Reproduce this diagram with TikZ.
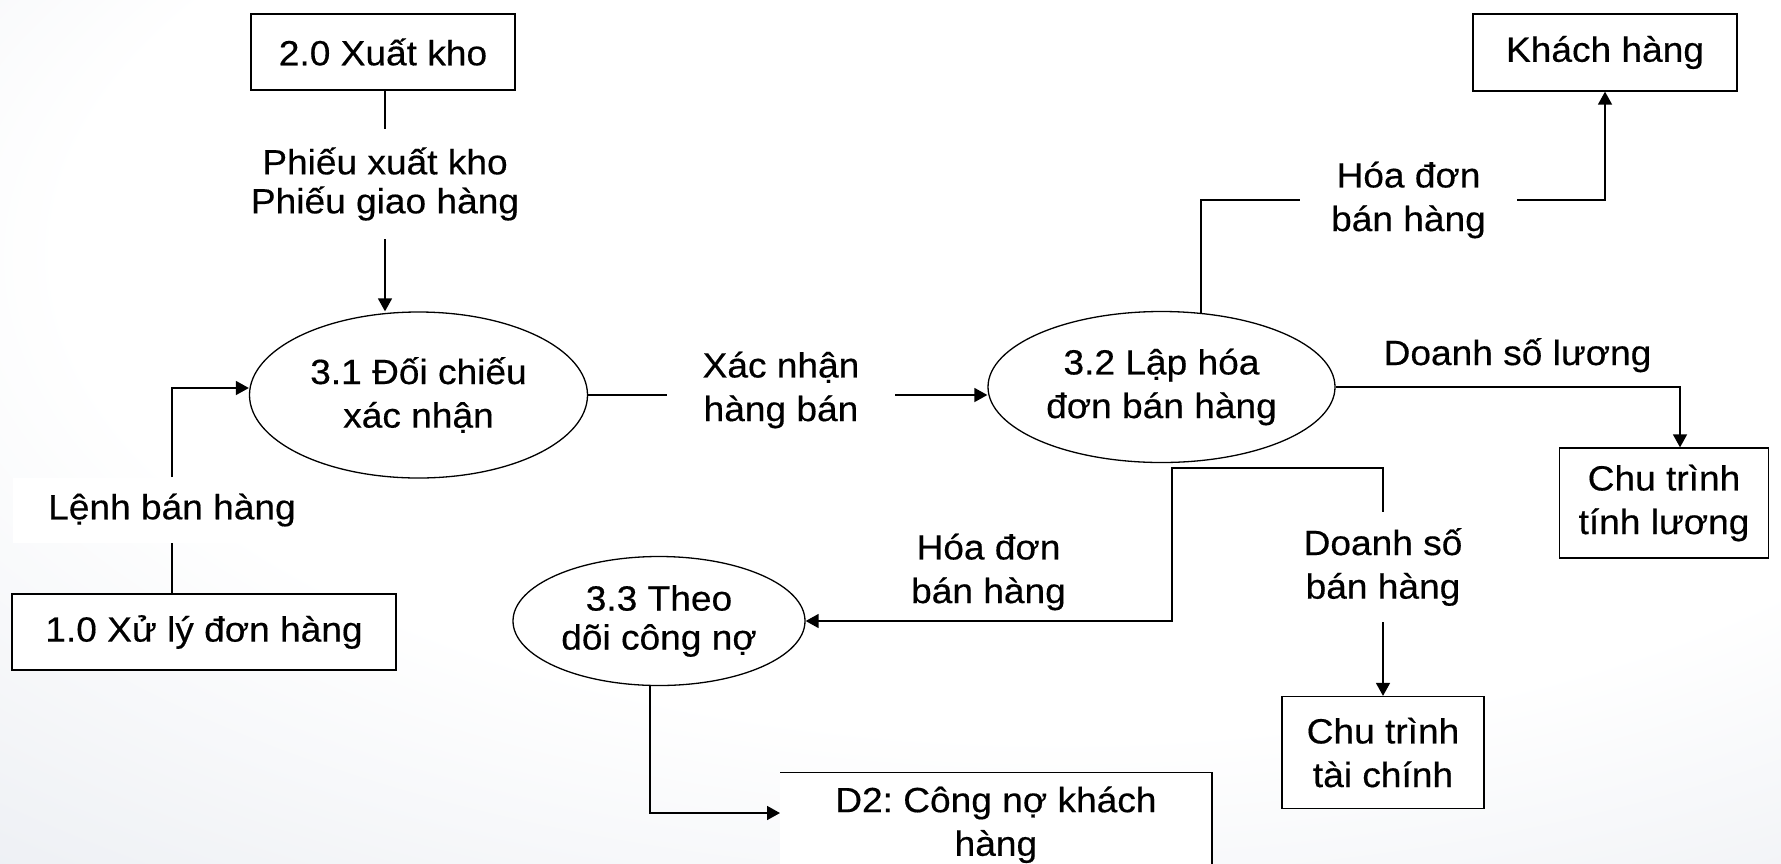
\documentclass[tikz,border=0pt]{standalone}
\usepackage{fontspec}
\setmainfont{Liberation Sans}[FakeStretch=1.06,FakeBold=0.4]
\usetikzlibrary{arrows.meta,shapes.geometric,calc}
\definecolor{bgedge}{RGB}{218,223,232}
\pgfdeclareradialshading{backdrop}{\pgfpoint{7bp}{15bp}}{color(0bp)=(white); color(28bp)=(white); color(62bp)=(bgedge); color(90bp)=(bgedge)}
\frenchspacing

\begin{document}
\begin{tikzpicture}[x=0.5pt,y=-0.5pt,
  every node/.style={font=\fontsize{17.5pt}{21.8pt}\selectfont, align=center, inner sep=0pt},
  tight/.style={font=\fontsize{17.5pt}{19.5pt}\selectfont},
  proc/.style={ellipse, draw, line width=0.65pt, fill=white},
  ext/.style={rectangle, draw, line width=0.65pt, fill=white},
  tag/.style={rectangle, fill=white},
  wire/.style={line width=0.8pt},
  flow/.style={line width=0.8pt, -{Triangle[length=6.5pt,width=7pt]}}]

% backdrop
\useasboundingbox (0,0) rectangle (1781,863);
\shade[shading=backdrop] (0,0) rectangle (1781,863);

% external entities and processes
\node[ext, minimum width=132pt, minimum height=38pt] (x20) at (383,52) {2.0 Xuất kho};
\node[ext, minimum width=192pt, minimum height=38pt] (b10) at (204,632) {1.0 Xử lý đơn hàng};
\node[ext, minimum width=132pt, minimum height=38.5pt] (kh) at (1605,52.5) {Khách hàng};
\node[ext, minimum width=104.5pt, minimum height=55pt] (tl) at (1664,503) {Chu trình\\tính lương};
\node[ext, minimum width=101pt, minimum height=56pt] (tc) at (1383,752.5) {Chu trình\\tài chính};

\node[proc, minimum width=169pt, minimum height=83pt] (p31) at (418.5,395) {3.1 Đối chiếu\\xác nhận};
\node[proc, minimum width=173.5pt, minimum height=75.5pt] (p32) at (1161.5,387) {3.2 Lập hóa\\đơn bán hàng};
\node[proc, tight, minimum width=146pt, minimum height=64.5pt] (p33) at (659,621) {3.3 Theo\\dõi công nợ};

% data store
\node[tag, minimum width=215.5pt, minimum height=52pt, anchor=north west] (d2) at (780,772.3) {D2: Công nợ khách\\hàng};
\draw[wire] (d2.north west) -- (d2.north east) -- (d2.south east);

% flow labels
\node[tag, tight, minimum width=146pt, minimum height=55pt] (lblA) at (385,184) {Phiếu xuất kho\\Phiếu giao hàng};
\node[tag, minimum width=159pt, minimum height=32.5pt] (lblB) at (172,510) {Lệnh bán hàng};
\node[tag, minimum width=114pt, minimum height=55pt] (lblC) at (781,390) {Xác nhận\\hàng bán};
\node[tag, minimum width=108.5pt, minimum height=52pt] (lblD) at (1408.5,200) {Hóa đơn\\bán hàng};
\node[anchor=base] (lblE) at (1517.5,365) {Doanh số lương};
\node[tag, minimum width=117.5pt, minimum height=55pt] (lblF) at (1383,567) {Doanh số\\bán hàng};
\node (lblG) at (988.5,572) {Hóa đơn\\bán hàng};

% flows
\draw[wire] (x20.south -| lblA) -- (lblA.north);
\draw[flow] (lblA.south) -- (lblA.south |- p31.north);
\draw[wire] (lblB |- b10.north) -- (lblB.south);
\draw[flow] (lblB.north) |- ([yshift=3.5pt]p31.west);
\draw[wire] (p31.east) -- (p31.east -| lblC.west);
\draw[flow] (p31.east -| lblC.east) -- (p31.east -| p32.west);
\draw[wire] (p32.62) |- (lblD.west);
\draw[flow] (lblD.east) -| (kh.south);
\draw[flow] (p32.east) -| ([xshift=8pt]tl.north);
\coordinate (fork) at ($(p32.south)+(10.5,5)$);
\draw[flow] (lblF.north) |- (fork) |- (p33.east);
\draw[flow] (lblF.south) -- (tc.north);
\draw[flow] ([xshift=-4.5pt]p33.south) |- ([yshift=-20.35pt]d2.north west);
\end{tikzpicture}
\end{document}
